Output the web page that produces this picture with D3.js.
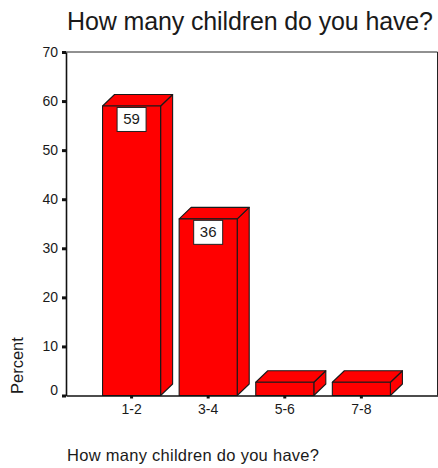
<!DOCTYPE html>
<html>
<head>
<meta charset="utf-8">
<script src="https://cdn.jsdelivr.net/npm/d3@7"></script>
<style>
html,body{margin:0;padding:0;background:#fff}
svg{display:block}
text{font-family:"Liberation Sans",Arial,sans-serif;fill:#1a1a1a}
</style>
</head>
<body>
<svg id="chart" width="438" height="468"></svg>
<script>
const categories = ["1-2", "3-4", "5-6", "7-8"];
const percents = [59, 36, 2.7, 2.7];
const shownLabels = [59, 36, null, null];
const yTicks = [0, 10, 20, 30, 40, 50, 60, 70];

const svg = d3.select("#chart");
const plotLeft = 66, plotRight = 437.5, plotTop = 52, plotBottom = 395.5;
const depthX = 12, depthY = 11.5;

const x = d3.scaleBand().domain(categories).range([plotLeft, plotRight])
  .paddingInner(0.242).paddingOuter(0.546).align(0.437);
const y = d3.scaleLinear().domain([0, 70]).range([plotBottom, plotTop]);

// Plot frame closing the top and right sides
svg.append("path")
  .attr("d", `M${plotLeft},${plotTop}H${plotRight}V${plotBottom}`)
  .attr("fill", "none").attr("stroke", "#222").attr("stroke-width", 1);

// Extruded bars: side face, top face, then front
const bars = svg.append("g").selectAll("g")
  .data(categories.map((c, i) => ({c, v: percents[i], label: shownLabels[i]})))
  .join("g");

bars.append("path")
  .attr("d", d => {
    const x1 = x(d.c) + x.bandwidth(), yt = y(d.v);
    return `M${x1},${yt}l${depthX},${-depthY}V${plotBottom - depthY}L${x1},${plotBottom}Z`;
  });
bars.append("path")
  .attr("d", d => {
    const x0 = x(d.c), yt = y(d.v);
    return `M${x0},${yt}l${depthX},${-depthY}h${x.bandwidth()}l${-depthX},${depthY}Z`;
  });
bars.append("rect")
  .attr("x", d => x(d.c)).attr("y", d => y(d.v))
  .attr("width", x.bandwidth()).attr("height", d => plotBottom - y(d.v));
bars.selectAll("path,rect")
  .attr("fill", "#ff0000").attr("stroke", "#1a1a1a").attr("stroke-width", 1.1)
  .attr("stroke-linejoin", "round");

// Value boxes sitting just under the top edge of the front face
const labelled = bars.filter(d => d.label !== null);
labelled.append("rect")
  .attr("x", d => x(d.c) + x.bandwidth() / 2 - 14.5)
  .attr("y", d => y(d.v) + 1.5)
  .attr("width", 29).attr("height", 24)
  .attr("fill", "#fff").attr("stroke", "#222").attr("stroke-width", 1);
labelled.append("text")
  .attr("x", d => x(d.c) + x.bandwidth() / 2)
  .attr("y", d => y(d.v) + 18.5)
  .attr("text-anchor", "middle").attr("font-size", 15)
  .text(d => d.label);

// Value axis; the zero label rides a little above its tick
const yAxis = svg.append("g").attr("transform", `translate(${plotLeft},0)`)
  .call(d3.axisLeft(y).tickValues(yTicks).tickSize(4).tickSizeOuter(0).tickPadding(4));
yAxis.selectAll(".domain").attr("stroke", "#111").attr("stroke-width", 1.6);
yAxis.selectAll(".tick line").attr("stroke", "#111").attr("stroke-width", 3);
yAxis.selectAll(".tick text").attr("font-size", 14).attr("font-family", null)
  .attr("dy", d => d === 0 ? "-0.1em" : "0.32em");

// Category axis
const xAxis = svg.append("g").attr("transform", `translate(0,${plotBottom})`)
  .call(d3.axisBottom(x).tickSize(3).tickSizeOuter(0).tickPadding(6));
xAxis.selectAll(".domain").attr("stroke", "#111").attr("stroke-width", 1.4);
xAxis.selectAll(".tick line").attr("stroke", "#111").attr("stroke-width", 3);
xAxis.selectAll(".tick text").attr("font-size", 14).attr("font-family", null);

// Titles
svg.append("text").attr("x", 67).attr("y", 30)
  .attr("font-size", 25).attr("textLength", 366).attr("lengthAdjust", "spacing")
  .text("How many children do you have?");
svg.append("text").attr("x", 67).attr("y", 460.5)
  .attr("font-size", 16.5).attr("textLength", 252).attr("lengthAdjust", "spacing")
  .text("How many children do you have?");
svg.append("text").attr("transform", "translate(23,394) rotate(-90)")
  .attr("font-size", 16.5).text("Percent");
</script>
</body>
</html>
